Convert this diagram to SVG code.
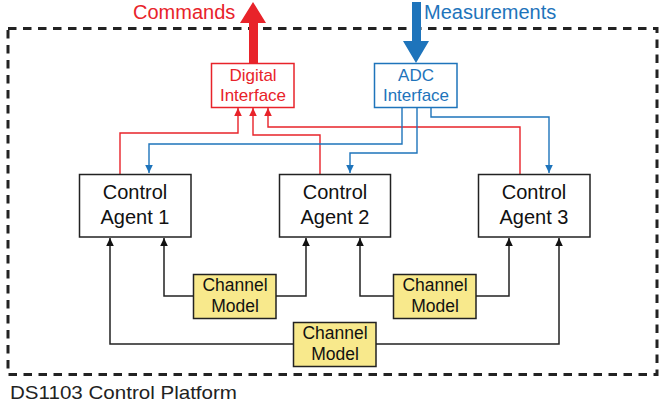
<svg xmlns="http://www.w3.org/2000/svg" width="660" height="410" viewBox="0 0 660 410">
<style>
text{font-family:"Liberation Sans",Arial,sans-serif}
.red{fill:#E8232A}
.blue{fill:#1E74BB}
.box{fill:#fff;stroke:#222;stroke-width:1.5}
.cm{fill:#F8E98C;stroke:#222;stroke-width:1.5}
.rl{fill:none;stroke:#E8232A;stroke-width:1.4}
.bl{fill:none;stroke:#1E74BB;stroke-width:1.4}
.kl{fill:none;stroke:#222;stroke-width:1.5}
.lbl{font-size:20px;fill:#111;text-anchor:middle}
.cml{font-size:17.5px;fill:#111;text-anchor:middle}
</style>
<defs>
<marker id="ar" markerUnits="userSpaceOnUse" markerWidth="10" markerHeight="10" viewBox="0 0 10 10" refX="9" refY="5" orient="auto"><path d="M1,1.2 L9,5 L1,8.8 Z" fill="#E8232A"/></marker>
<marker id="ab" markerUnits="userSpaceOnUse" markerWidth="10" markerHeight="10" viewBox="0 0 10 10" refX="9" refY="5" orient="auto"><path d="M1,1.2 L9,5 L1,8.8 Z" fill="#1E74BB"/></marker>
<marker id="ak" markerUnits="userSpaceOnUse" markerWidth="10" markerHeight="10" viewBox="0 0 10 10" refX="9" refY="5" orient="auto"><path d="M1,1.2 L9,5 L1,8.8 Z" fill="#111"/></marker>
</defs>
<rect x="8" y="28.5" width="649" height="346" fill="none" stroke="#222" stroke-width="3" stroke-dasharray="8.5 6.5"/>
<text x="10" y="399" font-size="19" fill="#222" textLength="227" lengthAdjust="spacingAndGlyphs">DS1103 Control Platform</text>
<g id="commands">
<polygon class="red" points="249,63 249,23 240,23 253,2 266,23 258,23 258,63"/>
<text x="133" y="19" font-size="20" class="red">Commands</text>
</g>
<g id="measurements">
<polygon class="blue" points="412,2 421,2 421,41 429,41 416,63 403,41 412,41"/>
<text x="424" y="19" font-size="20" class="blue">Measurements</text>
</g>
<g id="connectors">
<path class="rl" d="M120,174 V133 H238 V108" marker-end="url(#ar)"/>
<path class="rl" d="M320,174 V135 H253 V108" marker-end="url(#ar)"/>
<path class="rl" d="M520,174 V127 H268 V108" marker-end="url(#ar)"/>
<path class="bl" d="M402,107 V144 H149 V173" marker-end="url(#ab)"/>
<path class="bl" d="M417,107 V153 H350 V173" marker-end="url(#ab)"/>
<path class="bl" d="M431,107 V117 H549 V173" marker-end="url(#ab)"/>
<path class="kl" d="M293,344 H110 V238" marker-end="url(#ak)"/>
<path class="kl" d="M376,344 H559 V238" marker-end="url(#ak)"/>
<path class="kl" d="M193,296 H164 V238" marker-end="url(#ak)"/>
<path class="kl" d="M276,296 H306 V238" marker-end="url(#ak)"/>
<path class="kl" d="M393,296 H360 V238" marker-end="url(#ak)"/>
<path class="kl" d="M476,296 H509 V238" marker-end="url(#ak)"/>
</g>
<g id="digital">
<rect x="211.5" y="63.5" width="82.5" height="44" fill="#fff" stroke="#E8232A" stroke-width="1.5"/>
<text x="253" y="81" font-size="17" class="red" text-anchor="middle">Digital</text>
<text x="253" y="101" font-size="17" class="red" text-anchor="middle">Interface</text>
</g>
<g id="adc">
<rect x="374.5" y="63.5" width="82.5" height="44" fill="#fff" stroke="#1E74BB" stroke-width="1.5"/>
<text x="416" y="81" font-size="17" class="blue" text-anchor="middle">ADC</text>
<text x="416" y="101" font-size="17" class="blue" text-anchor="middle">Interface</text>
</g>
<g id="agent1">
<rect class="box" x="79.5" y="174.5" width="111.5" height="62.5"/>
<text class="lbl" x="135" y="199">Control</text>
<text class="lbl" x="135" y="224">Agent 1</text>
</g>
<g id="agent2">
<rect class="box" x="279.5" y="174.5" width="111" height="62.5"/>
<text class="lbl" x="335" y="199">Control</text>
<text class="lbl" x="335" y="224">Agent 2</text>
</g>
<g id="agent3">
<rect class="box" x="478.5" y="174.5" width="111.5" height="62.5"/>
<text class="lbl" x="534" y="199">Control</text>
<text class="lbl" x="534" y="224">Agent 3</text>
</g>
<g id="channel12">
<rect class="cm" x="193.5" y="274.5" width="82.5" height="44"/>
<text class="cml" x="235" y="291">Channel</text>
<text class="cml" x="235" y="312">Model</text>
</g>
<g id="channel23">
<rect class="cm" x="393.5" y="274.5" width="82.5" height="44"/>
<text class="cml" x="435" y="291">Channel</text>
<text class="cml" x="435" y="312">Model</text>
</g>
<g id="channel13">
<rect class="cm" x="293.5" y="322.5" width="82.5" height="44"/>
<text class="cml" x="335" y="339">Channel</text>
<text class="cml" x="335" y="360">Model</text>
</g>
</svg>
